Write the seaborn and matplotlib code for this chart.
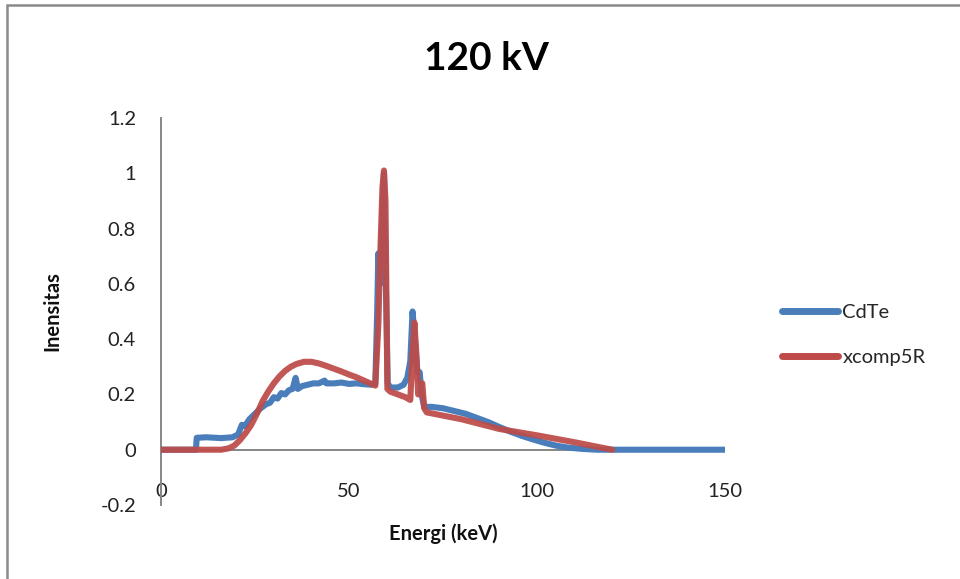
import numpy as np
import pandas as pd
import matplotlib
matplotlib.use("Agg")
import matplotlib.pyplot as plt
import matplotlib.patches as patches
import seaborn as sns

cdte_energy = [0, 9.3, 9.5, 12, 16, 19, 20.5, 21.5, 22.3, 23.5, 25, 26.5, 28, 29, 30, 31,
               32, 33, 34, 35, 35.8, 36.4, 37.5, 39, 40.5, 42, 43.5, 44, 46, 48, 50, 52,
               54, 56, 57, 57.5, 57.8, 58.3, 58.8, 59.3, 59.8, 60.3, 61, 63, 64.5, 65.5,
               66.3, 66.9, 67.5, 68.2, 68.8, 69.3, 70, 72, 75, 78, 81, 84, 87, 90, 93, 96,
               99, 102, 105, 108, 112, 116, 150]
cdte_int = [0, 0, 0.043, 0.045, 0.042, 0.045, 0.055, 0.09, 0.085, 0.11, 0.13, 0.15, 0.165,
            0.17, 0.19, 0.185, 0.205, 0.2, 0.215, 0.22, 0.26, 0.22, 0.23, 0.235, 0.24, 0.24,
            0.25, 0.24, 0.24, 0.243, 0.238, 0.24, 0.237, 0.235, 0.24, 0.5, 0.71, 0.6, 0.8,
            1.0, 0.6, 0.24, 0.225, 0.225, 0.235, 0.26, 0.32, 0.5, 0.4, 0.28, 0.28, 0.2,
            0.155, 0.155, 0.15, 0.14, 0.13, 0.115, 0.1, 0.082, 0.065, 0.05, 0.037, 0.025,
            0.015, 0.008, 0.003, 0, 0]

# xcomp5R simulated spectrum
xcomp_energy = [0, 16, 18, 19.5, 21, 22.5, 24, 25.5, 27, 28.5, 30, 31.5, 33, 34.5, 36, 38,
                40, 42, 44, 46, 48, 50, 52, 54, 56, 57, 57.8, 58.3, 58.9, 59.3, 59.7, 60.2,
                61, 63, 65, 66.3, 66.9, 67.4, 67.9, 68.4, 69, 69.5, 70, 70.7, 80, 90, 100,
                110, 120]
xcomp_int = [0, 0, 0.005, 0.015, 0.035, 0.06, 0.09, 0.13, 0.175, 0.21, 0.24, 0.265, 0.285,
             0.3, 0.31, 0.318, 0.318, 0.312, 0.303, 0.293, 0.283, 0.272, 0.262, 0.25, 0.238,
             0.232, 0.45, 0.7, 0.95, 1.01, 0.9, 0.22, 0.21, 0.2, 0.19, 0.18, 0.35, 0.46, 0.35,
             0.2, 0.24, 0.24, 0.15, 0.135, 0.11, 0.075, 0.052, 0.027, 0]

y_ticks = [-0.2, 0, 0.2, 0.4, 0.6, 0.8, 1, 1.2]
y_labels = ["-0.2", "0", "0.2", "0.4", "0.6", "0.8", "1", "1.2"]
x_ticks = [0, 50, 100, 150]

df = pd.concat([
    pd.DataFrame({"energi": cdte_energy, "intensitas": cdte_int, "seri": "CdTe"}),
    pd.DataFrame({"energi": xcomp_energy, "intensitas": xcomp_int, "seri": "xcomp5R"}),
], ignore_index=True)

sns.set_theme(style="white")
plt.rcParams["font.family"] = ["Lato", "DejaVu Sans"]

fig = plt.figure(figsize=(9.6, 5.79), dpi=100)
ax = fig.add_axes([161 / 960, 1 - 505 / 579, 564 / 960, 387 / 579])

ax.axhline(0, color="#868686", lw=1.4, zorder=1)
sns.lineplot(data=df, x="energi", y="intensitas", hue="seri", estimator=None,
             palette={"CdTe": "#4A7EBB", "xcomp5R": "#BE4B48"},
             linewidth=4.4, ax=ax, zorder=3)
for ln in ax.lines[1:]:
    ln.set_solid_capstyle("round")
    ln.set_solid_joinstyle("round")
ax.lines[2].set_alpha(0.93)

ax.set_xlim(0, 150)
ax.set_ylim(-0.2, 1.2)
ax.set_yticks(y_ticks)
ax.set_yticklabels(y_labels)
ax.set_xticks(x_ticks)
ax.set_xticklabels([str(t) for t in x_ticks])
ax.tick_params(axis="y", length=0, pad=18, labelsize=14.5, labelcolor="#222222")
ax.tick_params(axis="x", length=0, pad=-15.5, labelsize=14.5, labelcolor="#222222")

for side in ["top", "right", "bottom"]:
    ax.spines[side].set_visible(False)
ax.spines["left"].set_color("#868686")
ax.spines["left"].set_linewidth(1.4)

ax.set_xlabel("Energi (keV)", fontsize=14.5, fontweight="bold", color="#111111")
ax.set_ylabel("Inensitas", fontsize=14.5, fontweight="bold", color="#111111")
ax.xaxis.set_label_coords(0.5, -0.048)
ax.yaxis.set_label_coords(-0.175, 0.5)

fig.text(486 / 960, 1 - 59 / 579, "120 kV", fontsize=28, fontweight="bold",
         ha="center", va="center", color="black")

leg = ax.legend(loc="center left", bbox_to_anchor=(782 / 960, 1 - 335 / 579),
                bbox_transform=fig.transFigure, frameon=False, fontsize=14.5,
                handlelength=2.8, handletextpad=0.2, labelspacing=1.35,
                borderpad=0, borderaxespad=0, title=None)
for h in leg.get_lines():
    h.set_linewidth(5)
    h.set_solid_capstyle("round")

fig.patches.append(patches.Rectangle((7 / 960, -0.05), 1.1, 1.05 - 5 / 579,
                                     transform=fig.transFigure, fill=False,
                                     edgecolor="#8a8a8a", lw=1.8))

fig.savefig("out.png", dpi=100)
